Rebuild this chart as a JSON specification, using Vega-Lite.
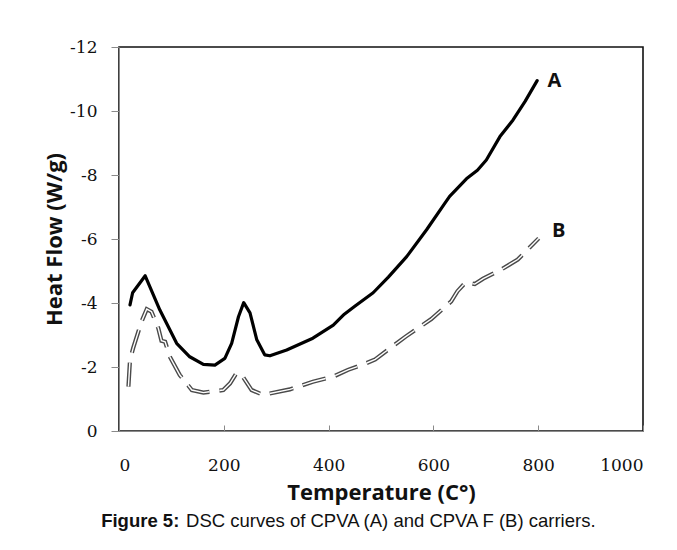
{
  "$schema": "https://vega.github.io/schema/vega-lite/v6.json",
  "autosize": {"type": "none"},
  "width": 524,
  "height": 384,
  "padding": {"left": 119, "top": 47, "right": 34, "bottom": 119},
  "background": "white",
  "config": {
    "view": {"stroke": "#111", "strokeWidth": 1.6},
    "axis": {
      "zindex": 1, "grid": false,
      "domainColor": "#8a8a8a", "tickColor": "#8a8a8a",
      "labelFont": "DejaVu Serif", "labelFontSize": 17, "labelColor": "#111",
      "titleFont": "Open Sans", "titleFontSize": 22, "titleFontWeight": "bold", "titleColor": "#111"
    }
  },
  "datasets": {
    "curves": [
      {"T": 21, "H": -3.94, "s": "A"}, {"T": 26, "H": -4.32, "s": "A"}, {"T": 50, "H": -4.85, "s": "A"},
      {"T": 78, "H": -3.78, "s": "A"}, {"T": 110, "H": -2.74, "s": "A"}, {"T": 135, "H": -2.32, "s": "A"},
      {"T": 161, "H": -2.08, "s": "A"}, {"T": 183, "H": -2.06, "s": "A"}, {"T": 202, "H": -2.27, "s": "A"},
      {"T": 215, "H": -2.74, "s": "A"}, {"T": 228, "H": -3.57, "s": "A"}, {"T": 238, "H": -4.01, "s": "A"},
      {"T": 250, "H": -3.69, "s": "A"}, {"T": 263, "H": -2.85, "s": "A"}, {"T": 278, "H": -2.38, "s": "A"},
      {"T": 288, "H": -2.35, "s": "A"}, {"T": 320, "H": -2.53, "s": "A"}, {"T": 370, "H": -2.9, "s": "A"},
      {"T": 409, "H": -3.31, "s": "A"}, {"T": 430, "H": -3.65, "s": "A"}, {"T": 450, "H": -3.9, "s": "A"},
      {"T": 485, "H": -4.32, "s": "A"}, {"T": 514, "H": -4.81, "s": "A"}, {"T": 549, "H": -5.45, "s": "A"},
      {"T": 587, "H": -6.29, "s": "A"}, {"T": 622, "H": -7.12, "s": "A"}, {"T": 631, "H": -7.33, "s": "A"},
      {"T": 663, "H": -7.88, "s": "A"}, {"T": 684, "H": -8.15, "s": "A"}, {"T": 701, "H": -8.47, "s": "A"},
      {"T": 727, "H": -9.2, "s": "A"}, {"T": 752, "H": -9.72, "s": "A"}, {"T": 775, "H": -10.3, "s": "A"},
      {"T": 798, "H": -10.95, "s": "A"},
      {"T": 18, "H": -1.39, "s": "B"}, {"T": 21, "H": -2.22, "s": "B"}, {"T": 27, "H": -2.59, "s": "B"},
      {"T": 43, "H": -3.42, "s": "B"}, {"T": 53, "H": -3.81, "s": "B"}, {"T": 62, "H": -3.73, "s": "B"},
      {"T": 75, "H": -3.21, "s": "B"}, {"T": 81, "H": -2.82, "s": "B"}, {"T": 88, "H": -2.79, "s": "B"},
      {"T": 97, "H": -2.32, "s": "B"}, {"T": 116, "H": -1.75, "s": "B"}, {"T": 139, "H": -1.28, "s": "B"},
      {"T": 161, "H": -1.2, "s": "B"}, {"T": 199, "H": -1.28, "s": "B"}, {"T": 212, "H": -1.49, "s": "B"},
      {"T": 224, "H": -1.8, "s": "B"}, {"T": 234, "H": -1.75, "s": "B"}, {"T": 253, "H": -1.28, "s": "B"},
      {"T": 275, "H": -1.13, "s": "B"}, {"T": 326, "H": -1.3, "s": "B"}, {"T": 370, "H": -1.54, "s": "B"},
      {"T": 409, "H": -1.7, "s": "B"}, {"T": 437, "H": -1.91, "s": "B"}, {"T": 465, "H": -2.07, "s": "B"},
      {"T": 489, "H": -2.24, "s": "B"}, {"T": 547, "H": -2.95, "s": "B"}, {"T": 596, "H": -3.5, "s": "B"},
      {"T": 634, "H": -4.05, "s": "B"}, {"T": 646, "H": -4.37, "s": "B"}, {"T": 662, "H": -4.65, "s": "B"},
      {"T": 679, "H": -4.59, "s": "B"}, {"T": 695, "H": -4.76, "s": "B"}, {"T": 728, "H": -5.03, "s": "B"},
      {"T": 761, "H": -5.36, "s": "B"}, {"T": 801, "H": -6.02, "s": "B"}
    ],
    "labels": [
      {"T": 831, "H": -10.95, "text": "A"},
      {"T": 839, "H": -6.24, "text": "B"}
    ],
    "caption": [
      {"part": "head", "text": "Figure 5:"},
      {"part": "body", "text": "DSC curves of CPVA (A) and CPVA F (B) carriers."}
    ]
  },
  "layer": [
    {
      "data": {"name": "curves"},
      "transform": [{"filter": "datum.s === 'B'"}],
      "mark": {"type": "line", "color": "#4a4a4a", "strokeWidth": 4.2, "strokeDash": [24, 10], "strokeCap": "butt"},
      "encoding": {
        "x": {
          "field": "T", "type": "quantitative",
          "scale": {"domain": [0, 1000], "nice": false},
          "axis": {
            "title": "Temperature (C°)",
            "values": [0, 200, 400, 600, 800, 1000],
            "format": "d",
            "tickSize": -6,
            "labelPadding": 32,
            "titlePadding": 9
          }
        },
        "y": {
          "field": "H", "type": "quantitative",
          "scale": {"domain": [-12, 0], "reverse": true, "nice": false},
          "axis": {
            "title": "Heat Flow (W/g)",
            "values": [-12, -10, -8, -6, -4, -2, 0],
            "labelExpr": "replace(format(datum.value, 'd'), '\u2212', '-')",
            "tickSize": 8,
            "labelPadding": 14,
            "titlePadding": 3
          }
        }
      }
    },
    {
      "data": {"name": "curves"},
      "transform": [{"filter": "datum.s === 'B'"}],
      "mark": {"type": "line", "color": "white", "strokeWidth": 1.4, "strokeDash": [24, 10], "strokeCap": "butt"},
      "encoding": {
        "x": {"field": "T", "type": "quantitative"},
        "y": {"field": "H", "type": "quantitative"}
      }
    },
    {
      "data": {"name": "curves"},
      "transform": [{"filter": "datum.s === 'A'"}],
      "mark": {"type": "line", "color": "#000", "strokeWidth": 3.2, "strokeJoin": "round", "strokeCap": "round"},
      "encoding": {
        "x": {"field": "T", "type": "quantitative"},
        "y": {"field": "H", "type": "quantitative"}
      }
    },
    {
      "data": {"name": "labels"},
      "mark": {"type": "text", "font": "Open Sans", "fontSize": 20, "fontWeight": "bold", "color": "#111", "align": "center", "baseline": "middle"},
      "encoding": {
        "x": {"field": "T", "type": "quantitative"},
        "y": {"field": "H", "type": "quantitative"},
        "text": {"field": "text"}
      }
    },
    {
      "data": {"name": "caption"},
      "transform": [{"filter": "datum.part === 'head'"}],
      "mark": {"type": "text", "font": "Liberation Sans", "fontSize": 18.5, "fontWeight": "bold", "color": "#111", "align": "left", "baseline": "middle"},
      "encoding": {
        "x": {"datum": -34},
        "y": {"datum": 2.8},
        "text": {"field": "text"}
      }
    },
    {
      "data": {"name": "caption"},
      "transform": [{"filter": "datum.part === 'body'"}],
      "mark": {"type": "text", "font": "Liberation Sans", "fontSize": 18.5, "color": "#111", "align": "left", "baseline": "middle"},
      "encoding": {
        "x": {"datum": 128},
        "y": {"datum": 2.8},
        "text": {"field": "text"}
      }
    }
  ]
}
